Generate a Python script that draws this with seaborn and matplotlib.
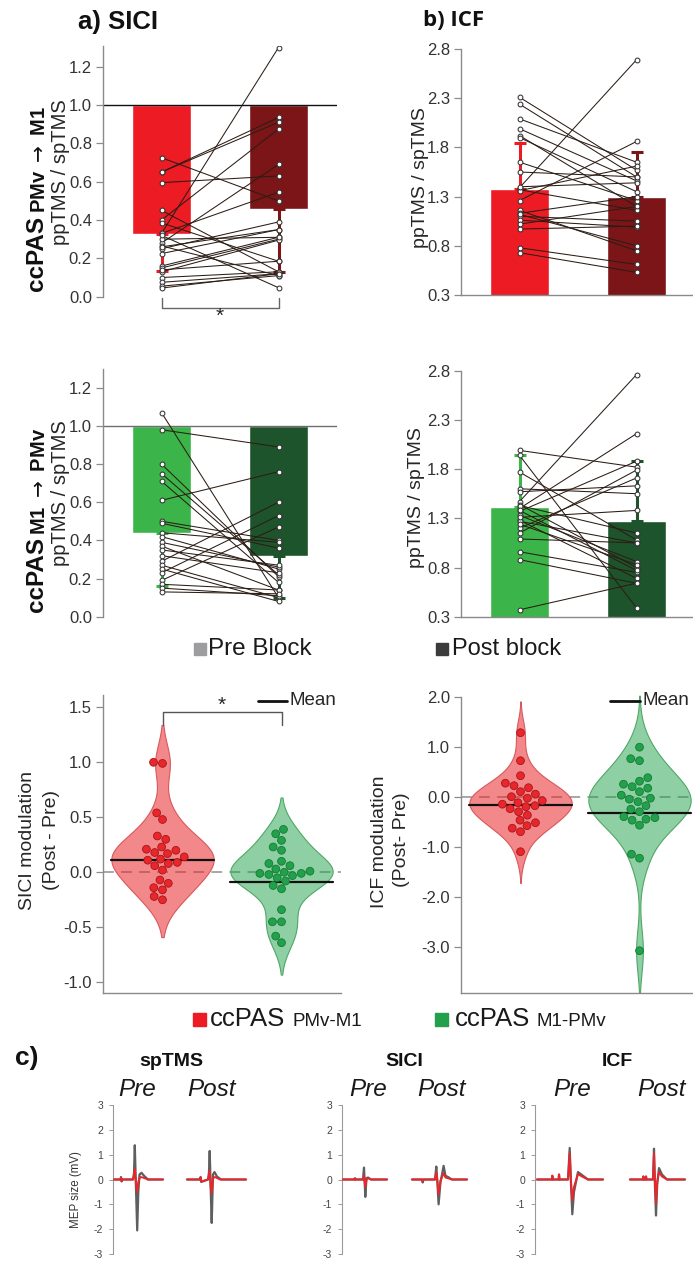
import numpy as np
import pandas as pd
import matplotlib
matplotlib.use("Agg")
import matplotlib.pyplot as plt
from matplotlib.collections import PolyCollection, PathCollection
from matplotlib.patches import Rectangle
import seaborn as sns

# ------------------------------------------------------------------
# Data: ppTMS / spTMS ratios per participant (pre and post block)
# ------------------------------------------------------------------
sici_pmv_pre = [0.725, 0.65, 0.65, 0.595, 0.45, 0.40, 0.385, 0.33, 0.33, 0.28, 0.265, 0.25,
                0.225, 0.16, 0.15, 0.13, 0.10, 0.075, 0.055, 0.045, 0.30, 0.32, 0.26, 0.14]
sici_pmv_post = [0.50, 0.935, 0.91, 0.63, 0.13, 0.875, 0.185, 1.30, 0.545, 0.69, 0.11, 0.39,
                 0.35, 0.31, 0.30, 0.295, 0.13, 0.12, 0.11, 0.12, 0.31, 0.047, 0.35, 0.185]
sici_pmv_mean = [0.325, 0.455]
sici_pmv_sd = [0.19, 0.325]

icf_pmv_pre = [2.31, 2.24, 2.09, 1.99, 1.92, 1.90, 1.65, 1.55, 1.39, 1.37, 1.36, 1.26,
               1.16, 1.13, 1.10, 1.06, 1.02, 0.97, 0.78, 0.73, 1.12, 1.40]
icf_pmv_post = [1.57, 1.50, 1.65, 1.46, 1.20, 1.35, 1.26, 1.50, 2.69, 1.16, 1.61, 1.86,
                0.75, 1.30, 1.05, 0.99, 1.20, 1.00, 0.61, 0.53, 0.80, 1.44]
icf_pmv_mean = [1.377, 1.30]
icf_pmv_sd = [0.47, 0.45]

sici_m1_pre = [1.07, 0.98, 0.80, 0.75, 0.71, 0.61, 0.50, 0.49, 0.44, 0.42, 0.39, 0.37,
               0.35, 0.32, 0.29, 0.27, 0.25, 0.23, 0.19, 0.17, 0.15, 0.13]
sici_m1_post = [0.10, 0.89, 0.21, 0.22, 0.18, 0.76, 0.40, 0.36, 0.39, 0.25, 0.26, 0.14,
                0.27, 0.23, 0.60, 0.10, 0.08, 0.53, 0.47, 0.14, 0.11, 0.12]
sici_m1_mean = [0.44, 0.318]
sici_m1_sd = [0.278, 0.218]

icf_m1_pre = [1.99, 1.94, 1.77, 1.60, 1.57, 1.47, 1.44, 1.40, 1.37, 1.33, 1.28, 1.27,
              1.20, 1.15, 1.09, 0.96, 0.88, 0.37, 1.43, 1.31, 1.24, 1.38]
icf_m1_post = [1.82, 0.39, 1.08, 1.55, 1.63, 2.76, 0.80, 2.16, 1.88, 0.86, 0.69, 1.05,
               1.71, 1.79, 1.05, 0.75, 0.64, 0.64, 1.15, 1.38, 0.83, 0.77]
icf_m1_mean = [1.411, 1.276]
icf_m1_sd = [0.53, 0.61]

# Modulation (Post - Pre) per participant
groups = ["PMv-M1", "M1-PMv"]
sici_mod_pmv = [1.00, 0.99, 0.54, 0.48, 0.33, 0.30, 0.23, 0.21, 0.20, 0.18, 0.17, 0.14,
                0.11, 0.09, 0.08, 0.06, 0.02, -0.07, -0.10, -0.14, -0.16, -0.22, -0.25, 0.12]
sici_mod_m1 = [0.39, 0.35, 0.29, 0.23, 0.20, 0.10, 0.08, 0.06, 0.00, -0.01, -0.01, -0.02,
               -0.03, -0.05, -0.08, -0.12, -0.15, -0.34, -0.45, -0.45, -0.58, -0.64, 0.01, 0.03]
sici_mod_mean = [0.11, -0.09]
icf_mod_pmv = [1.28, 0.72, 0.42, 0.27, 0.22, 0.18, 0.10, 0.05, 0.00, -0.03, -0.08, -0.12,
               -0.15, -0.20, -0.24, -0.30, -0.37, -0.47, -0.52, -0.58, -0.63, -0.70, -1.10, -0.18]
icf_mod_m1 = [0.99, 0.76, 0.72, 0.38, 0.31, 0.25, 0.17, 0.10, 0.03, -0.03, -0.10, -0.18,
              -0.25, -0.30, -0.40, -0.42, -0.45, -0.47, -0.57, -1.15, -1.23, -3.08, -0.05, 0.20]
icf_mod_mean = [-0.17, -0.33]

# MEP waveforms (ms from sweep start, mV): grey = trial overlay envelope, red = average
sp_pre_t_grey = [0, 7.5, 8, 8.6, 9.2, 20, 21, 21.8, 23, 24.2, 25.3, 26.5, 28.5, 31, 35, 50]
sp_pre_v_grey = [0, 0, 0.1, -0.08, 0, 0, 0.25, 1.38, -0.4, -2.05, -0.5, 0.2, 0.27, 0.15, 0, 0]
sp_pre_t_red = [0, 7.5, 8, 8.6, 9.2, 20, 21, 21.8, 23, 24.2, 25.3, 27, 30, 35, 50]
sp_pre_v_red = [0, 0, 0.07, -0.06, 0, 0, 0.15, 0.42, -0.15, -0.5, -0.1, 0.1, 0.08, 0, 0]
sp_post_t_grey = [0, 13, 13.6, 14.2, 21, 22, 22.7, 23.7, 24.7, 26, 27.5, 30, 34, 59]
sp_post_v_grey = [0, 0, 0.1, -0.1, 0, 0.3, 1.15, -0.4, -1.75, 0.2, 0.3, 0.12, 0, 0]
sp_post_t_red = [0, 13, 13.6, 14.2, 21, 22, 22.7, 23.7, 24.7, 26, 28, 33, 59]
sp_post_v_red = [0, 0, 0.08, -0.08, 0, 0.15, 0.35, -0.3, -0.55, 0.05, 0.1, 0, 0]

sici_pre_t = [0, 12.5, 13, 13.5, 21, 22, 23.3, 24.5, 26, 29, 45]
sici_pre_v_grey = [0, 0, 0.05, 0, 0, 0.48, -0.7, 0.05, 0.08, 0, 0]
sici_pre_v_red = [0, 0, 0.04, 0, 0, 0.15, -0.3, 0.0, 0.05, 0, 0]
sici_post_t = [0, 10, 10.7, 11.4, 23, 24.3, 25.5, 26.6, 28.5, 30, 31.6, 33.5, 36, 40, 55]
sici_post_v_grey = [0, 0, -0.12, 0, 0, 0.52, -0.2, -1.0, -0.1, 0.2, 0.55, 0.15, 0.1, 0, 0]
sici_post_v_red = [0, 0, -0.08, 0, 0, 0.3, -0.1, -0.6, -0.05, 0.1, 0.25, 0.08, 0.05, 0, 0]

icf_pre_t = [0, 15, 15.3, 15.8, 21.7, 22, 22.5, 31, 32.7, 34, 35.3, 37, 41, 45, 51, 66]
icf_pre_v_grey = [0, 0, 0.15, 0, 0, 0.2, 0, 0, 1.27, -0.2, -1.4, -0.5, 0.3, 0.18, 0, 0]
icf_pre_v_red = [0, 0, 0.15, 0, 0, 0.2, 0, 0, 1.05, -0.1, -0.85, -0.3, 0.22, 0.12, 0, 0]
icf_post_t = [0, 13, 13.3, 13.8, 15.7, 16, 16.5, 23, 24, 25, 26, 27.2, 29, 32, 37, 55]
icf_post_v_grey = [0, 0, 0.12, 0, 0, 0.12, 0, 0, 1.24, -0.3, -1.45, -0.2, 0.46, 0.2, 0, 0]
icf_post_v_red = [0, 0, 0.12, 0, 0, 0.12, 0, 0, 1.05, -0.2, -0.95, -0.1, 0.3, 0.12, 0, 0]

# ------------------------------------------------------------------
# Style
# ------------------------------------------------------------------
sns.set_theme(style="white")
plt.rcParams["font.family"] = ["Liberation Sans", "DejaVu Sans"]
plt.rcParams["axes.unicode_minus"] = False
plt.rcParams["mathtext.fontset"] = "dejavusans"

RED, DARK_RED = "#ED1C24", "#7B1518"
GREEN, DARK_GREEN = "#3BB54A", "#1D542B"
SPINE = "#8a8a8a"
TXT = "#262626"

W, H = 693, 1261
fig = plt.figure(figsize=(W / 100, H / 100), dpi=100)


def rect(l, t, r, b):
    return [l / W, 1 - b / H, (r - l) / W, (b - t) / H]


def fx(x):
    return x / W


def fy(y):
    return 1 - y / H


def vtext(x, y, s, **kw):
    """Vertical text anchored on its baseline at (x, y) in pixels."""
    fig.text(fx(x), fy(y), s, rotation=90, rotation_mode="anchor", va="baseline", **kw)


def style_axis(ax, bottom=False, tick_size=12):
    for s in ["top", "right"]:
        ax.spines[s].set_visible(False)
    ax.spines["bottom"].set_visible(bottom)
    for s in ["left", "bottom"]:
        ax.spines[s].set_color(SPINE)
        ax.spines[s].set_linewidth(1.0)
    ax.tick_params(axis="y", left=True, length=5, width=0.9, color=SPINE,
                   labelsize=tick_size, labelcolor="#333333", pad=3)
    ax.set_xticks([])
    ax.set_xlabel("")
    ax.set_ylabel("")


def paired_panel(ax, pre, post, means, sds, bar_colors, ref, ylim, yticks, ref_color=None):
    x = [0, 1]
    if ref is not None:
        ax.bar(x, [m - ref for m in means], bottom=ref, width=0.5, color=bar_colors, zorder=1)
        ax.axhline(ref, color=ref_color, lw=1.0, zorder=2)
        err = [[[s], [0]] for s in sds]
    else:
        ax.bar(x, means, width=0.5, color=bar_colors, zorder=1)
        err = [[[0], [s]] for s in sds]
    for xi, m, e, c in zip(x, means, err, bar_colors):
        ax.errorbar(xi, m, yerr=e, fmt="none", ecolor=c, elinewidth=2.2,
                    capsize=4, capthick=2.2, zorder=2)
    n = len(pre)
    df = pd.DataFrame({"subj": list(range(n)) * 2, "x": [0] * n + [1] * n, "v": pre + post})
    sns.lineplot(data=df, x="x", y="v", units="subj", estimator=None, sort=False,
                 color="#2b1d15", lw=0.75, ax=ax, legend=False, zorder=3)
    sns.scatterplot(data=df, x="x", y="v", color="white", edgecolor="#333333", s=12,
                    linewidth=0.75, ax=ax, legend=False, zorder=4)
    ax.set_xlim(-0.5, 1.5)
    ax.set_ylim(*ylim)
    ax.set_yticks(yticks)
    ax.set_yticklabels([f"{v:.1f}" for v in yticks])


def modulation_panel(ax, red_vals, green_vals, means, cut, ylim, yticks):
    df = pd.DataFrame({"grp": [groups[0]] * len(red_vals) + [groups[1]] * len(green_vals),
                       "val": red_vals + green_vals})
    ax.axhline(0, color="#a0a0a0", lw=1.3, ls=(0, (6, 4)), zorder=0.5)
    sns.violinplot(data=df, x="grp", y="val", hue="grp", order=groups, hue_order=groups,
                   palette=[RED, GREEN], width=0.86, density_norm="width", inner=None,
                   cut=cut, linewidth=0.8, saturation=1, ax=ax, legend=False)
    fills = [(0.91, 0.15, 0.17, 0.55), (0.13, 0.63, 0.29, 0.5)]
    edges = ["#d9585c", "#4fa766"]
    for coll in ax.collections:
        if isinstance(coll, PolyCollection):
            cx = coll.get_paths()[0].vertices[:, 0].mean()
            i = int(round(cx))
            coll.set_facecolor(fills[i])
            coll.set_edgecolor(edges[i])
            coll.set_zorder(1)
    for i, m in enumerate(means):
        ax.plot([i - 0.43, i + 0.43], [m, m], color="#111111", lw=1.6, zorder=3)
    n_before = len(ax.collections)
    sns.swarmplot(data=df, x="grp", y="val", hue="grp", order=groups, hue_order=groups,
                  palette=["#E8262B", "#22A04B"], size=5.6, linewidth=0.6, ax=ax,
                  legend=False, zorder=4)
    dot_edges = ["#a81519", "#137a35"]
    for coll in ax.collections[n_before:]:
        if isinstance(coll, PathCollection) and len(coll.get_offsets()):
            i = int(round(np.asarray(coll.get_offsets())[:, 0].mean()))
            coll.set_edgecolor(dot_edges[i])
            coll.set_zorder(4)
    ax.set_xlim(-0.5, 1.5)
    ax.set_ylim(*ylim)
    ax.set_yticks(yticks)
    ax.set_yticklabels([f"{v:.1f}" for v in yticks])


# ------------------------------------------------------------------
# a) SICI / b) ICF paired bar panels
# ------------------------------------------------------------------
ax1 = fig.add_axes(rect(103, 45.6, 337, 296.7))
paired_panel(ax1, sici_pmv_pre, sici_pmv_post, sici_pmv_mean, sici_pmv_sd,
             [RED, DARK_RED], 1.0, (0, 1.31), [0.0, 0.2, 0.4, 0.6, 0.8, 1.0, 1.2], "#111111")
style_axis(ax1)
ax1.plot([0, 0, 1, 1], [-0.008, -0.06, -0.06, -0.008], color="#666666", lw=1.0, clip_on=False)
ax1.text(0.5, -0.1, "*", ha="center", va="center", fontsize=15, color=TXT, clip_on=False)

ax2 = fig.add_axes(rect(461, 49, 695, 295))
paired_panel(ax2, icf_pmv_pre, icf_pmv_post, icf_pmv_mean, icf_pmv_sd,
             [RED, DARK_RED], None, (0.3, 2.8), [0.3, 0.8, 1.3, 1.8, 2.3, 2.8])
style_axis(ax2, bottom=True)

ax3 = fig.add_axes(rect(103, 368.7, 337, 616.7))
paired_panel(ax3, sici_m1_pre, sici_m1_post, sici_m1_mean, sici_m1_sd,
             [GREEN, DARK_GREEN], 1.0, (0, 1.3), [0.0, 0.2, 0.4, 0.6, 0.8, 1.0, 1.2], "#6e6e6e")
style_axis(ax3)

ax4 = fig.add_axes(rect(461, 370.7, 695, 616.7))
paired_panel(ax4, icf_m1_pre, icf_m1_post, icf_m1_mean, icf_m1_sd,
             [GREEN, DARK_GREEN], None, (0.3, 2.8), [0.3, 0.8, 1.3, 1.8, 2.3, 2.8])
style_axis(ax4, bottom=True)

fig.text(fx(78), fy(22), "a) SICI", fontsize=18.5, fontweight="bold", color="#111111",
         ha="left", va="center")
fig.text(fx(423), fy(21), "b) ICF", fontsize=16, fontweight="bold", color="#111111",
         ha="left", va="center", family=["Open Sans", "DejaVu Sans"])

# row labels
vtext(43, 291, "ccPAS", fontsize=17.5, fontweight="bold", ha="left", color="#111111")
vtext(45, 213, r"PMv $\rightarrow$ M1", fontsize=14.5, fontweight="bold", ha="left",
      color="#111111")
vtext(66, 172, "ppTMS / spTMS", fontsize=14.5, ha="center", color=TXT)
vtext(43, 612, "ccPAS", fontsize=17.5, fontweight="bold", ha="left", color="#111111")
vtext(45, 535, r"M1 $\rightarrow$ PMv", fontsize=14.5, fontweight="bold", ha="left",
      color="#111111")
vtext(66, 493, "ppTMS / spTMS", fontsize=14.5, ha="center", color=TXT)
vtext(425, 178, "ppTMS / spTMS", fontsize=14, ha="center", color=TXT)
vtext(421, 498, "ppTMS / spTMS", fontsize=14, ha="center", color=TXT)

# block legend
fig.add_artist(Rectangle((fx(194), fy(655)), 12 / W, 12 / H, color="#9d9d9f",
                         transform=fig.transFigure))
fig.text(fx(208), fy(649), "Pre Block", fontsize=17.5, ha="left", va="center", color="#1a1a1a")
fig.add_artist(Rectangle((fx(436), fy(655)), 12 / W, 12 / H, color="#3b3b3b",
                         transform=fig.transFigure))
fig.text(fx(452), fy(649), "Post block", fontsize=17, ha="left", va="center", color="#1a1a1a")

# ------------------------------------------------------------------
# Modulation violins
# ------------------------------------------------------------------
ax5 = fig.add_axes(rect(103, 695.2, 341, 993.3))
modulation_panel(ax5, sici_mod_pmv, sici_mod_m1, sici_mod_mean, 2, (-1.1, 1.61),
                 [-1.0, -0.5, 0.0, 0.5, 1.0, 1.5])
style_axis(ax5, bottom=True)
ax5.plot([0, 0, 1, 1], [1.34, 1.46, 1.46, 1.34], color="#555555", lw=1.0)
ax5.text(0.5, 1.52, "*", ha="center", va="center", fontsize=15, color=TXT)
ax5.plot([0.80, 1.045], [1.56, 1.56], color="#111111", lw=2.0, clip_on=False)
ax5.text(1.07, 1.56, "Mean", fontsize=13.5, ha="left", va="center", color=TXT, clip_on=False)

ax6 = fig.add_axes(rect(461, 692.7, 699, 993.2))
modulation_panel(ax6, icf_mod_pmv, icf_mod_m1, icf_mod_mean, 2.4, (-3.93, 2.08),
                 [-3.0, -2.0, -1.0, 0.0, 1.0, 2.0])
style_axis(ax6, bottom=True)
ax6.spines["left"].set_bounds(-3.93, 2.0)
ax6.plot([0.756, 1.0], [1.92, 1.92], color="#111111", lw=2.0, clip_on=False)
ax6.text(1.025, 1.92, "Mean", fontsize=13.5, ha="left", va="center", color=TXT, clip_on=False)

fig.text(fx(28), fy(840), "SICI modulation", rotation=90, fontsize=14, ha="center",
         va="center", color=TXT)
fig.text(fx(51), fy(840), "(Post - Pre)", rotation=90, fontsize=14, ha="center",
         va="center", color=TXT)
fig.text(fx(380), fy(842), "ICF modulation", rotation=90, fontsize=14, ha="center",
         va="center", color=TXT)
fig.text(fx(402), fy(840), "(Post- Pre)", rotation=90, fontsize=14, ha="center",
         va="center", color=TXT)

# protocol legend
fig.add_artist(Rectangle((fx(193), fy(1026)), 13 / W, 13 / H, color=RED,
                         transform=fig.transFigure))
fig.text(fx(210), fy(1026), "ccPAS", fontsize=18.5, ha="left", va="baseline", color="#1a1a1a")
fig.text(fx(292), fy(1026), "PMv-M1", fontsize=13.5, ha="left", va="baseline", color="#1a1a1a")
fig.add_artist(Rectangle((fx(435), fy(1026)), 13 / W, 13 / H, color="#22A04B",
                         transform=fig.transFigure))
fig.text(fx(455), fy(1026), "ccPAS", fontsize=18.5, ha="left", va="baseline", color="#1a1a1a")
fig.text(fx(537), fy(1026), "M1-PMv", fontsize=13.5, ha="left", va="baseline", color="#1a1a1a")

# ------------------------------------------------------------------
# c) MEP traces
# ------------------------------------------------------------------
def trace_axis(ax, xmax):
    ax.set_xlim(0, xmax)
    ax.set_ylim(-3, 3)
    for s in ["top", "right", "bottom"]:
        ax.spines[s].set_visible(False)
    ax.spines["left"].set_color("#9a9a9a")
    ax.spines["left"].set_linewidth(0.8)
    ax.set_xticks([])
    ax.set_yticks([-3, -2, -1, 0, 1, 2, 3])
    ax.set_yticklabels(["-3", "-2", "-1", "0", "1", "2", "3"])
    ax.tick_params(axis="y", left=True, length=3, width=0.7, color="#9a9a9a",
                   labelsize=7.5, labelcolor="#444444", pad=4)


def draw_trace(ax, t, v, offset, color, lw, z):
    ax.plot(np.asarray(t) + offset, v, color=color, lw=lw, zorder=z, solid_joinstyle="round")


GREY_TRACE, RED_TRACE = "#5f5f5f", "#E8262B"

ax7 = fig.add_axes(rect(113, 1105, 250, 1254))
trace_axis(ax7, 137)
draw_trace(ax7, sp_pre_t_grey, sp_pre_v_grey, 0, GREY_TRACE, 1.6, 2)
draw_trace(ax7, sp_pre_t_red, sp_pre_v_red, 0, RED_TRACE, 1.4, 3)
draw_trace(ax7, sp_post_t_grey, sp_post_v_grey, 74, GREY_TRACE, 1.6, 2)
draw_trace(ax7, sp_post_t_red, sp_post_v_red, 74, RED_TRACE, 1.4, 3)

ax8 = fig.add_axes(rect(342, 1105, 470, 1254))
trace_axis(ax8, 128)
draw_trace(ax8, sici_pre_t, sici_pre_v_grey, 0, GREY_TRACE, 1.6, 2)
draw_trace(ax8, sici_pre_t, sici_pre_v_red, 0, RED_TRACE, 1.4, 3)
draw_trace(ax8, sici_post_t, sici_post_v_grey, 70, GREY_TRACE, 1.6, 2)
draw_trace(ax8, sici_post_t, sici_post_v_red, 70, RED_TRACE, 1.4, 3)

ax9 = fig.add_axes(rect(535, 1105, 690, 1254))
trace_axis(ax9, 155)
draw_trace(ax9, icf_pre_t, icf_pre_v_grey, 2, GREY_TRACE, 1.6, 2)
draw_trace(ax9, icf_pre_t, icf_pre_v_red, 2, RED_TRACE, 1.4, 3)
draw_trace(ax9, icf_post_t, icf_post_v_grey, 95, GREY_TRACE, 1.6, 2)
draw_trace(ax9, icf_post_t, icf_post_v_red, 95, RED_TRACE, 1.4, 3)

fig.text(fx(15), fy(1058), "c)", fontsize=19, fontweight="bold", ha="left", va="center",
         color="#111111")
for cx, title in [(171, "spTMS"), (404, "SICI"), (617, "ICF")]:
    fig.text(fx(cx), fy(1062), title, fontsize=14, fontweight="bold", ha="center",
             va="center", color="#111111")
for cx, lab in [(137, "Pre"), (212, "Post"), (368, "Pre"), (441, "Post"),
                (572, "Pre"), (662, "Post")]:
    fig.text(fx(cx), fy(1089), lab, fontsize=17.5, fontstyle="italic", ha="center",
             va="center", color="#1a1a1a")
fig.text(fx(76), fy(1190), "MEP size (mV)", rotation=90, fontsize=8.3, ha="center",
         va="center", color="#333333")

fig.savefig("out.png", dpi=100)
